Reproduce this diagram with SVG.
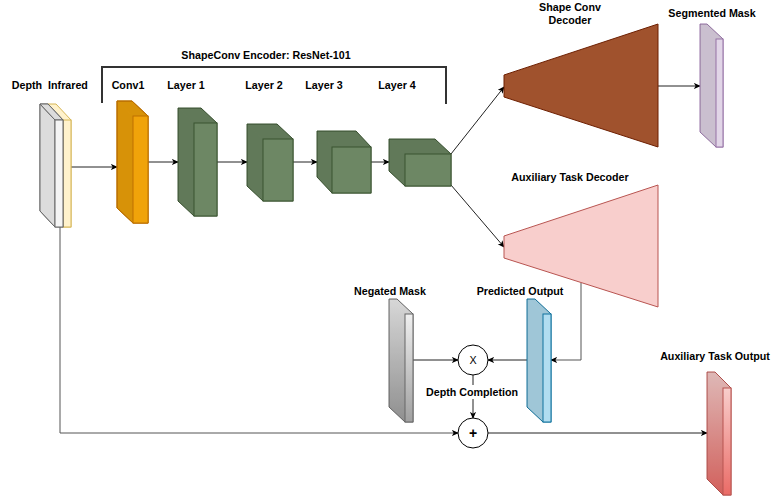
<svg xmlns="http://www.w3.org/2000/svg" width="773" height="500" viewBox="0 0 773 500">
<defs>
<style>
text{font-family:"Liberation Sans",Arial,Helvetica,sans-serif;font-size:10.7px;font-weight:bold;fill:#000;text-anchor:middle}
.edge{fill:none;stroke:#222;stroke-width:1}
.shade{fill:#000;fill-opacity:0.1;stroke:none}
.green{fill:#6d8764;stroke:#3a5431}
.orange{fill:#f0a30a;stroke:#bd7000}
.gray{fill:#f5f5f5;stroke:#666}
.yellow{fill:#fff2cc;stroke:#d6b656}
.purple{fill:#e1d5e7;stroke:#9673a6}
.blue{fill:#b1ddf0;stroke:#10739e}
.neg{fill:url(#gNeg);stroke:#666}
.aux{fill:url(#gAux);stroke:#b85450}
</style>
<linearGradient id="gNeg" x1="0" y1="0" x2="0" y2="1"><stop offset="0" stop-color="#f0f0f0"/><stop offset="1" stop-color="#a0a0a0"/></linearGradient>
<linearGradient id="gAux" x1="0" y1="0" x2="0" y2="1"><stop offset="0" stop-color="#f8cecc"/><stop offset="1" stop-color="#ea6b66"/></linearGradient>
<marker id="arr" viewBox="0 0 8 8" refX="7" refY="4" markerWidth="7" markerHeight="7" orient="auto" markerUnits="userSpaceOnUse"><path d="M0,0.5 L8,4 L0,7.5 L2,4 Z" fill="#000"/></marker>
</defs>

<g id="edges">
<path class="edge" d="M63,167 H117" marker-end="url(#arr)"/>
<path class="edge" d="M148,162 H178" marker-end="url(#arr)"/>
<path class="edge" d="M217,162 H247" marker-end="url(#arr)"/>
<path class="edge" d="M293,162 H317" marker-end="url(#arr)"/>
<path class="edge" d="M371,162 H389" marker-end="url(#arr)"/>
<path class="edge" d="M451,154 L504,87" marker-end="url(#arr)"/>
<path class="edge" d="M451,185 L504,247" marker-end="url(#arr)"/>
<path class="edge" d="M658,86 H700" marker-end="url(#arr)"/>
<path class="edge" d="M581,283 V360 H551" marker-end="url(#arr)" style="stroke:#555"/>
<path class="edge" d="M413,360 H458" marker-end="url(#arr)"/>
<path class="edge" d="M527,360 H488" marker-end="url(#arr)"/>
<path class="edge" d="M473,375 V418" marker-end="url(#arr)"/>
<path class="edge" d="M60,227 V433 H458" marker-end="url(#arr)" style="stroke:#555"/>
<path class="edge" d="M488,433 H707" marker-end="url(#arr)"/>
<path d="M102,103 V67 H446 V104" fill="none" stroke="#333" stroke-width="2"/>
</g>

<g id="infrared">
<polygon class="yellow" points="48,104 56,104 71,120 71,227 63,227 48,211"/>
<rect class="yellow" x="63" y="120" width="8" height="107"/>
</g>
<g id="depth">
<polygon class="gray" points="40,104 48,104 63,120 63,227 55,227 40,211"/>
<polygon class="gray" points="40,104 55,120 55,227 40,211" style="fill:#dcdcdc"/>
<polygon class="gray" points="40,104 48,104 63,120 55,120" style="fill:#dcdcdc"/>
<rect class="gray" x="55" y="120" width="8" height="107"/>
</g>
<text x="27" y="89">Depth</text>
<text x="68" y="89">Infrared</text>

<g id="conv1">
<polygon class="orange" points="117,101 132,101 148,116 148,223 133,223 117,208"/>
<polygon class="shade" points="117,101 133,116 133,223 117,208"/>
<polygon class="shade" points="117,101 132,101 148,116 133,116"/>
<polygon class="orange" points="117,101 132,101 148,116 148,223 133,223 117,208" style="fill:none"/>
<rect class="orange" x="133" y="116" width="15" height="107"/>
<text x="128" y="89">Conv1</text>
</g>

<g id="layer1">
<polygon class="green" points="178,108 201,108 217,123 217,216 194,216 178,201"/>
<polygon class="shade" points="178,108 194,123 194,216 178,201"/>
<polygon class="shade" points="178,108 201,108 217,123 194,123"/>
<rect class="green" x="194" y="123" width="23" height="93"/>
<text x="186" y="89">Layer 1</text>
</g>
<g id="layer2">
<polygon class="green" points="247,124 277,124 293,139 293,201 263,201 247,186"/>
<polygon class="shade" points="247,124 263,139 263,201 247,186"/>
<polygon class="shade" points="247,124 277,124 293,139 263,139"/>
<rect class="green" x="263" y="139" width="30" height="62"/>
<text x="264" y="89">Layer 2</text>
</g>
<g id="layer3">
<polygon class="green" points="317,131 356,131 371,147 371,193 332,193 317,177"/>
<polygon class="shade" points="317,131 332,147 332,193 317,177"/>
<polygon class="shade" points="317,131 356,131 371,147 332,147"/>
<rect class="green" x="332" y="147" width="39" height="46"/>
<text x="324" y="89">Layer 3</text>
</g>
<g id="layer4">
<polygon class="green" points="389,139 435,139 451,154 451,186 405,186 389,171"/>
<polygon class="shade" points="389,139 405,154 405,186 389,171"/>
<polygon class="shade" points="389,139 435,139 451,154 405,154"/>
<rect class="green" x="405" y="154" width="46" height="32"/>
<text x="397" y="89">Layer 4</text>
</g>
<text x="266" y="59">ShapeConv Encoder: ResNet-101</text>

<g id="shapeconv-decoder">
<polygon points="504,75 658,24 658,147 504,97" fill="#a0522d" stroke="#6d1f00"/>
<text x="570" y="11">Shape Conv</text>
<text x="570" y="24">Decoder</text>
</g>

<g id="segmented-mask">
<polygon class="purple" points="700,24 707,24 723,39 723,147 716,147 700,132"/>
<polygon class="shade" points="700,24 716,39 716,147 700,132"/>
<polygon class="shade" points="700,24 707,24 723,39 716,39"/>
<rect class="purple" x="716" y="39" width="7" height="108"/>
<text x="712" y="17">Segmented Mask</text>
</g>

<g id="aux-decoder">
<polygon points="504,236 658,185 658,307 504,258" fill="#f8cecc" stroke="#b85450"/>
<text x="570" y="181">Auxiliary Task Decoder</text>
</g>

<g id="predicted-output">
<polygon class="blue" points="527,299 535,299 551,314 551,422 543,422 527,407"/>
<polygon class="shade" points="527,299 543,314 543,422 527,407"/>
<polygon class="shade" points="527,299 535,299 551,314 543,314"/>
<rect class="blue" x="543" y="314" width="8" height="108"/>
<text x="520" y="295">Predicted Output</text>
</g>

<g id="negated-mask">
<polygon class="neg" points="389,299 397,299 413,314 413,422 405,422 389,407"/>
<polygon class="shade" points="389,299 405,314 405,422 389,407"/>
<polygon class="shade" points="389,299 397,299 413,314 405,314"/>
<rect class="neg" x="405" y="314" width="8" height="108"/>
<text x="390" y="295">Negated Mask</text>
</g>

<g id="multiply">
<circle cx="473" cy="360" r="15" fill="#fff" stroke="#000"/>
<text x="473" y="364" style="font-weight:normal">X</text>
</g>

<g id="depth-completion">
<rect x="424" y="385" width="96" height="14" fill="#fff"/>
<text x="472" y="396">Depth Completion</text>
</g>

<g id="plus">
<circle cx="473" cy="433" r="15" fill="#fff" stroke="#000"/>
<text x="473" y="438" style="font-size:14px">+</text>
</g>

<g id="aux-output">
<polygon class="aux" points="707,372 715,372 731,388 731,495 723,495 707,479"/>
<polygon class="shade" points="707,372 723,388 723,495 707,479"/>
<polygon class="shade" points="707,372 715,372 731,388 723,388"/>
<rect class="aux" x="723" y="388" width="8" height="107"/>
<text x="715" y="360">Auxiliary Task Output</text>
</g>
</svg>
